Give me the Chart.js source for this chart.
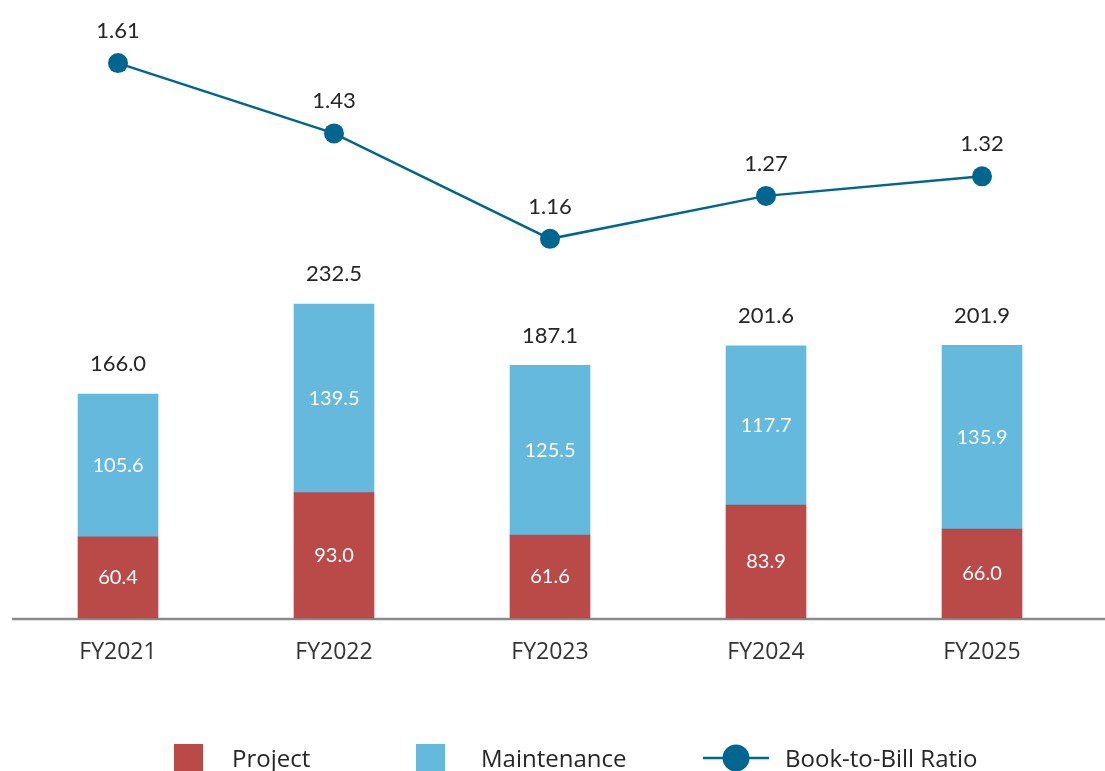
<!DOCTYPE html>
<html>
<head>
<meta charset="utf-8">
<script src="https://cdn.jsdelivr.net/npm/chart.js@4.4.1/dist/chart.umd.min.js"></script>
<style>
  html, body { margin: 0; padding: 0; background: #fff; overflow: hidden; }
  .wrap { position: relative; width: 1105px; height: 771px; }
  #bookChart { position: absolute; left: 0; top: 0; }
  .legend { position: absolute; left: 0; top: 0; width: 1105px; height: 771px; pointer-events: none;
            font-family: "Open Sans", sans-serif; font-size: 24px; color: #262626; }
  .legend .sw { position: absolute; top: 744px; width: 29px; height: 30px; }
  .legend .txt { position: absolute; top: 741px; line-height: 34px; white-space: nowrap; }
  .legend canvas { position: absolute; top: 744px; }
</style>
</head>
<body>
<div class="wrap">
  <canvas id="bookChart" width="1105" height="771"></canvas>
  <div class="legend" id="legend"></div>
</div>
<script>
const categories = ['FY2021', 'FY2022', 'FY2023', 'FY2024', 'FY2025'];
const projectValues = [60.4, 93.0, 61.6, 83.9, 66.0];
const maintenanceValues = [105.6, 139.5, 125.5, 117.7, 135.9];
const totalValues = [166.0, 232.5, 187.1, 201.6, 201.9];
const ratioValues = [1.61, 1.43, 1.16, 1.27, 1.32];

const RED = '#b94a48';
const BLUE = '#64b9dd';
const LINE = '#00668f';
const TEXT = '#262626';

// Value labels drawn from element positions
const valueLabels = {
  id: 'valueLabels',
  afterDatasetsDraw(chart) {
    const ctx = chart.ctx;
    ctx.save();
    ctx.textAlign = 'center';
    ctx.textBaseline = 'middle';

    [0, 1].forEach(function(di) {
      const meta = chart.getDatasetMeta(di);
      const values = chart.data.datasets[di].data;
      meta.data.forEach(function(el, i) {
        ctx.fillStyle = '#ffffff';
        ctx.font = '20px Lato, sans-serif';
        ctx.fillText(values[i].toFixed(1), el.x, (el.y + el.base) / 2);
      });
    });

    // totals above the stack
    const topMeta = chart.getDatasetMeta(1);
    topMeta.data.forEach(function(el, i) {
      ctx.fillStyle = TEXT;
      ctx.font = '22px Lato, sans-serif';
      ctx.fillText(totalValues[i].toFixed(1), el.x, el.y - 30);
    });

    const lineMeta = chart.getDatasetMeta(2);
    lineMeta.data.forEach(function(el, i) {
      ctx.fillStyle = TEXT;
      ctx.font = '22px Lato, sans-serif';
      ctx.fillText(ratioValues[i].toFixed(2), el.x, el.y - 32);
    });
    ctx.restore();
  }
};

// Baseline that runs past the plot to the right edge
const baseLine = {
  id: 'baseLine',
  beforeDatasetsDraw(chart) {
    const ctx = chart.ctx;
    const y = Math.round(chart.scales.y.getPixelForValue(0)) + 1;
    ctx.save();
    ctx.strokeStyle = '#8a8a8a';
    ctx.lineWidth = 2.5;
    ctx.beginPath();
    ctx.moveTo(12, y);
    ctx.lineTo(chart.width, y);
    ctx.stroke();
    ctx.restore();
  }
};

const ctx = document.getElementById('bookChart').getContext('2d');
const bookChart = new Chart(ctx, {
  type: 'bar',
  data: {
    labels: categories,
    datasets: [
      {
        label: 'Project',
        data: projectValues,
        backgroundColor: RED,
        yAxisID: 'y',
        stack: 'orders',
        barThickness: 80,
        order: 2
      },
      {
        label: 'Maintenance',
        data: maintenanceValues,
        backgroundColor: BLUE,
        yAxisID: 'y',
        stack: 'orders',
        barThickness: 80,
        order: 2
      },
      {
        type: 'line',
        label: 'Book-to-Bill Ratio',
        data: ratioValues,
        borderColor: LINE,
        backgroundColor: LINE,
        borderWidth: 2.5,
        pointRadius: 10,
        pointHoverRadius: 10,
        pointBackgroundColor: LINE,
        pointBorderWidth: 0,
        tension: 0,
        yAxisID: 'y1',
        order: 1
      }
    ]
  },
  options: {
    responsive: false,
    animation: false,
    layout: {
      padding: { left: 10, right: 15, top: 0, bottom: 93 }
    },
    plugins: {
      legend: { display: false },
      tooltip: { enabled: false }
    },
    scales: {
      x: {
        stacked: true,
        grid: { display: false },
        border: { display: false },
        ticks: {
          color: '#333333',
          padding: 12,
          font: { family: 'Open Sans', size: 23 }
        }
      },
      y: {
        stacked: true,
        display: false,
        min: 0,
        max: 450
      },
      y1: {
        display: false,
        min: 0.188,
        max: 1.746
      }
    }
  },
  plugins: [baseLine, valueLabels]
});

// Legend
function buildLegend() {
  const legend = document.getElementById('legend');
  legend.innerHTML = `
    <div class="sw" style="left:174px;background:${RED}"></div>
    <div class="txt" style="left:232px">Project</div>
    <div class="sw" style="left:416px;background:${BLUE}"></div>
    <div class="txt" style="left:481px">Maintenance</div>
    <canvas id="lineKey" width="66" height="30" style="left:703px"></canvas>
    <div class="txt" style="left:785px">Book-to-Bill Ratio</div>
  `;
  const k = document.getElementById('lineKey').getContext('2d');
  k.strokeStyle = LINE;
  k.lineWidth = 2.5;
  k.beginPath();
  k.moveTo(0, 14);
  k.lineTo(66, 14);
  k.stroke();
  k.fillStyle = LINE;
  k.beginPath();
  k.arc(33, 14, 13.5, 0, Math.PI * 2);
  k.fill();
}
buildLegend();
</script>
</body>
</html>
